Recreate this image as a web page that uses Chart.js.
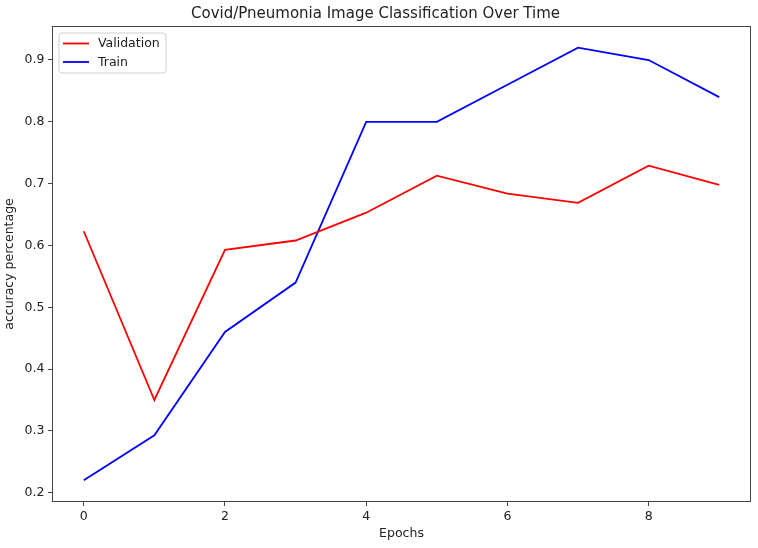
<!DOCTYPE html>
<html>
<head>
<meta charset="utf-8">
<script src="https://cdn.jsdelivr.net/npm/chart.js@4"></script>
<style>
  html, body { margin: 0; padding: 0; background: #fff; }
  canvas { display: block; }
</style>
</head>
<body>
<canvas id="accChart" width="758" height="548"></canvas>
<script>
// データ
const epochs = [0, 1, 2, 3, 4, 5, 6, 7, 8, 9];
const validationAcc = [0.623, 0.350, 0.593, 0.608, 0.653, 0.713, 0.684, 0.669, 0.729, 0.698];
const trainAcc = [0.220, 0.293, 0.460, 0.540, 0.800, 0.800, 0.860, 0.920, 0.900, 0.840];
const xTicks = [0, 2, 4, 6, 8];
const yTicks = [0.2, 0.3, 0.4, 0.5, 0.6, 0.7, 0.8, 0.9];
const seriesNames = ['Validation', 'Train'];
const seriesColors = ['red', 'blue'];

const fontFamily = '"DejaVu Sans", sans-serif';
const textColor = '#222';
const axisColor = '#444';
const lineWidth = 1.8;

function toPoints(values) {
    return epochs.map((e, i) => ({ x: e, y: values[i] }));
}

// 枠線（matplotlib風に四辺）
const framePlugin = {
    id: 'frame',
    afterDraw(chart) {
        const { ctx, chartArea: a } = chart;
        ctx.save();
        ctx.strokeStyle = axisColor;
        ctx.lineWidth = 1;
        ctx.strokeRect(a.left + 0.5, a.top + 0.5, a.right - a.left - 1, a.bottom - a.top - 1);
        ctx.restore();
    }
};

// 凡例をプロット内の左上に描く
const innerLegend = {
    id: 'innerLegend',
    afterDatasetsDraw(chart) {
        const { ctx, chartArea: a } = chart;
        const x = a.left + 7, y = a.top + 7, w = 107, h = 40, r = 3;
        ctx.save();
        ctx.beginPath();
        ctx.roundRect(x, y, w, h, r);
        ctx.fillStyle = 'rgba(255,255,255,0.8)';
        ctx.fill();
        ctx.strokeStyle = '#d0d0d0';
        ctx.lineWidth = 1;
        ctx.stroke();
        ctx.font = '12.5px ' + fontFamily;
        ctx.textBaseline = 'middle';
        chart.data.datasets.forEach((ds, i) => {
            const ly = y + 10.5 + i * 18.5;
            ctx.beginPath();
            ctx.moveTo(x + 4, ly);
            ctx.lineTo(x + 30, ly);
            ctx.strokeStyle = ds.borderColor;
            ctx.lineWidth = lineWidth;
            ctx.stroke();
            ctx.fillStyle = textColor;
            ctx.fillText(ds.label, x + 39, ly + 0.5);
        });
        ctx.restore();
    }
};

const ctx = document.getElementById('accChart').getContext('2d');
new Chart(ctx, {
    type: 'line',
    data: {
        datasets: [
            {
                label: seriesNames[0],
                data: toPoints(validationAcc),
                borderColor: seriesColors[0],
                backgroundColor: seriesColors[0],
                borderWidth: lineWidth,
                pointRadius: 0,
                tension: 0
            },
            {
                label: seriesNames[1],
                data: toPoints(trainAcc),
                borderColor: seriesColors[1],
                backgroundColor: seriesColors[1],
                borderWidth: lineWidth,
                pointRadius: 0,
                tension: 0
            }
        ]
    },
    options: {
        responsive: false,
        animation: false,
        devicePixelRatio: 1,
        layout: { padding: { left: 0, right: 7, top: 0, bottom: 0 } },
        plugins: {
            legend: { display: false },
            tooltip: { enabled: false },
            title: {
                display: true,
                text: 'Covid/Pneumonia Image Classification Over Time',
                color: textColor,
                font: { family: fontFamily, size: 15, weight: 'normal' },
                padding: { top: 5, bottom: 3 }
            }
        },
        scales: {
            x: {
                type: 'linear',
                min: -0.45,
                max: 9.45,
                afterBuildTicks: (scale) => { scale.ticks = xTicks.map(v => ({ value: v })); },
                afterFit: (scale) => { scale.height = 46; },
                grid: { drawOnChartArea: false, drawTicks: true, tickLength: 4, color: axisColor },
                border: { display: false },
                ticks: {
                    color: textColor,
                    padding: 3,
                    maxRotation: 0,
                    font: { family: fontFamily, size: 12.5 }
                },
                title: {
                    display: true,
                    text: 'Epochs',
                    color: textColor,
                    font: { family: fontFamily, size: 12.5 },
                    padding: { top: 0, bottom: 6.5 }
                }
            },
            y: {
                type: 'linear',
                min: 0.185,
                max: 0.955,
                afterBuildTicks: (scale) => { scale.ticks = yTicks.map(v => ({ value: v })); },
                afterFit: (scale) => { scale.width = 52; },
                grid: { drawOnChartArea: false, drawTicks: true, tickLength: 4, color: axisColor },
                border: { display: false },
                ticks: {
                    color: textColor,
                    padding: 3.5,
                    font: { family: fontFamily, size: 12.5 },
                    callback: (v) => v.toFixed(1)
                },
                title: {
                    display: true,
                    text: 'accuracy percentage',
                    color: textColor,
                    font: { family: fontFamily, size: 12.5 },
                    padding: { top: 2.5, bottom: 0 }
                }
            }
        }
    },
    plugins: [framePlugin, innerLegend]
});
</script>
</body>
</html>
